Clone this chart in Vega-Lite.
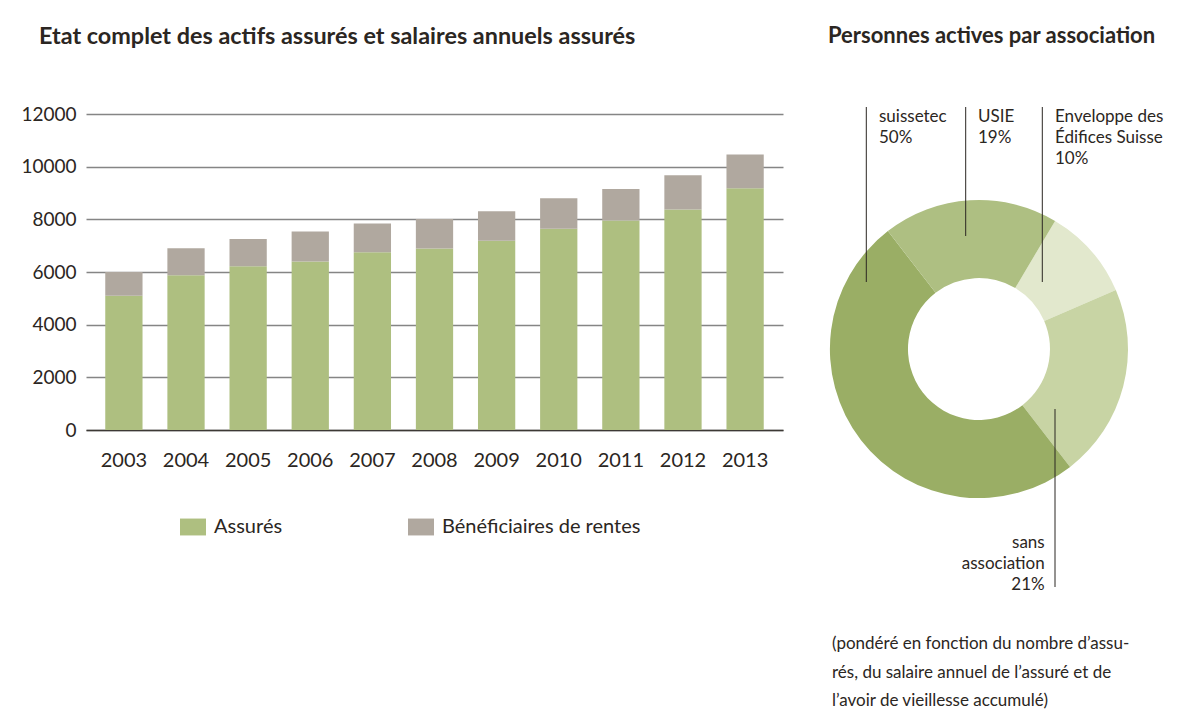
{
  "$schema": "https://vega.github.io/schema/vega-lite/v6.json",
  "background": "white",
  "padding": {"left": 20, "top": 24, "right": 0, "bottom": 0},
  "spacing": 36,
  "config": {
    "font": "Lato",
    "view": {"stroke": null},
    "title": {"font": "Lato", "fontSize": 22, "fontWeight": "bold", "color": "#2b2622", "anchor": "start", "frame": "group"},
    "axis": {"labelFont": "Lato", "labelColor": "#2b2622"},
    "legend": {"labelFont": "Lato", "labelColor": "#2b2622"}
  },
  "resolve": {"scale": {"color": "independent"}, "legend": {"color": "independent"}},
  "hconcat": [
    {
      "title": {"text": "Etat complet des actifs assurés et salaires annuels assurés", "fontSize": 23.4, "dx": -47, "offset": 56},
      "width": 697,
      "height": 316,
      "data": {"values": [
        {"annee": "2003", "categorie": "Assurés", "valeur": 5100},
        {"annee": "2003", "categorie": "Bénéficiaires de rentes", "valeur": 900},
        {"annee": "2004", "categorie": "Assurés", "valeur": 5880},
        {"annee": "2004", "categorie": "Bénéficiaires de rentes", "valeur": 1020},
        {"annee": "2005", "categorie": "Assurés", "valeur": 6220},
        {"annee": "2005", "categorie": "Bénéficiaires de rentes", "valeur": 1030},
        {"annee": "2006", "categorie": "Assurés", "valeur": 6400},
        {"annee": "2006", "categorie": "Bénéficiaires de rentes", "valeur": 1140},
        {"annee": "2007", "categorie": "Assurés", "valeur": 6750},
        {"annee": "2007", "categorie": "Bénéficiaires de rentes", "valeur": 1090},
        {"annee": "2008", "categorie": "Assurés", "valeur": 6890},
        {"annee": "2008", "categorie": "Bénéficiaires de rentes", "valeur": 1120},
        {"annee": "2009", "categorie": "Assurés", "valeur": 7190},
        {"annee": "2009", "categorie": "Bénéficiaires de rentes", "valeur": 1120},
        {"annee": "2010", "categorie": "Assurés", "valeur": 7640},
        {"annee": "2010", "categorie": "Bénéficiaires de rentes", "valeur": 1160},
        {"annee": "2011", "categorie": "Assurés", "valeur": 7960},
        {"annee": "2011", "categorie": "Bénéficiaires de rentes", "valeur": 1190},
        {"annee": "2012", "categorie": "Assurés", "valeur": 8370},
        {"annee": "2012", "categorie": "Bénéficiaires de rentes", "valeur": 1300},
        {"annee": "2013", "categorie": "Assurés", "valeur": 9180},
        {"annee": "2013", "categorie": "Bénéficiaires de rentes", "valeur": 1280}
      ]},
      "mark": {"type": "bar"},
      "encoding": {
        "x": {
          "field": "annee", "type": "ordinal",
          "scale": {"paddingInner": 0.4, "paddingOuter": 0.31},
          "axis": {"title": null, "labelAngle": 0, "labelFontSize": 20, "labelPadding": 20, "ticks": false, "tickSize": 0, "domainColor": "#3d3935", "domainWidth": 1.5, "grid": false}
        },
        "y": {
          "field": "valeur", "type": "quantitative", "stack": "zero",
          "scale": {"domain": [0, 12000], "nice": false},
          "axis": {"title": null, "values": [0, 2000, 4000, 6000, 8000, 10000, 12000], "format": "d", "labelFontSize": 19, "labelPadding": 10, "ticks": false, "tickSize": 0, "domain": false, "gridColor": "#858585", "gridWidth": 1.6}
        },
        "order": {"field": "categorie", "sort": "ascending"},
        "color": {
          "field": "categorie", "type": "nominal",
          "scale": {"domain": ["Assurés", "Bénéficiaires de rentes"], "range": ["#aebf80", "#b0a89f"]},
          "legend": {"title": null, "orient": "bottom", "direction": "horizontal", "symbolType": "M-1,-0.65H1V0.65H-1Z", "symbolSize": 676, "symbolStrokeWidth": 0, "symbolOffset": 94, "labelFontSize": 20, "labelOffset": 8, "labelLimit": 0, "columnPadding": 31, "offset": 44}
        }
      }
    },
    {
      "title": {"text": "Personnes actives par association", "dx": 9, "offset": 59},
      "width": 350,
      "height": 605,
      "data": {"values": [
        {"association": "Enveloppe des Édifices Suisse", "rang": 1, "part": 10, "etiquette": ["Enveloppe des", "Édifices Suisse", "10%"]},
        {"association": "sans association", "rang": 2, "part": 21, "etiquette": ["sans", "association", "21%"]},
        {"association": "suissetec", "rang": 3, "part": 50, "etiquette": ["suissetec", "50%"]},
        {"association": "USIE", "rang": 4, "part": 19, "etiquette": ["USIE", "19%"]}
      ]},
      "layer": [
        {
          "mark": {"type": "arc", "innerRadius": 71, "outerRadius": 149},
          "encoding": {
            "x": {"datum": 0, "type": "quantitative", "scale": {"domain": [-16, 19], "nice": false, "zero": false}, "axis": null},
            "y": {"datum": 0, "type": "quantitative", "scale": {"domain": [-37, 23.5], "nice": false, "zero": false}, "axis": null},
            "theta": {"field": "part", "type": "quantitative", "stack": true, "scale": {"range": [0.5358, 6.819]}},
            "order": {"field": "rang", "sort": "ascending"},
            "color": {
              "field": "association", "type": "nominal",
              "scale": {"domain": ["Enveloppe des Édifices Suisse", "sans association", "suissetec", "USIE"], "range": ["#e2e8cd", "#c8d4a4", "#9aae65", "#aebf82"]},
              "legend": null
            }
          }
        },
        {
          "data": {"values": [{}]},
          "mark": {"type": "rule", "color": "#2b2622", "strokeWidth": 1},
          "encoding": {"x": {"datum": -11.27, "type": "quantitative"}, "y": {"datum": 24.2, "type": "quantitative"}, "y2": {"datum": 6.7}}
        },
        {
          "data": {"values": [{}]},
          "mark": {"type": "rule", "color": "#2b2622", "strokeWidth": 1},
          "encoding": {"x": {"datum": -1.33, "type": "quantitative"}, "y": {"datum": 24.2, "type": "quantitative"}, "y2": {"datum": 11.3}}
        },
        {
          "data": {"values": [{}]},
          "mark": {"type": "rule", "color": "#2b2622", "strokeWidth": 1},
          "encoding": {"x": {"datum": 6.33, "type": "quantitative"}, "y": {"datum": 24.2, "type": "quantitative"}, "y2": {"datum": 6.7}}
        },
        {
          "data": {"values": [{}]},
          "mark": {"type": "rule", "color": "#2b2622", "strokeWidth": 1},
          "encoding": {"x": {"datum": 7.6, "type": "quantitative"}, "y": {"datum": -6.0, "type": "quantitative"}, "y2": {"datum": -23.8}}
        },
        {
          "transform": [{"filter": {"field": "association", "equal": "suissetec"}}],
          "mark": {"type": "text", "align": "left", "baseline": "alphabetic", "fontSize": 17, "lineHeight": 21, "color": "#2b2622"},
          "encoding": {"x": {"datum": -10.0, "type": "quantitative"}, "y": {"datum": 22.67, "type": "quantitative"}, "text": {"field": "etiquette"}}
        },
        {
          "transform": [{"filter": {"field": "association", "equal": "USIE"}}],
          "mark": {"type": "text", "align": "left", "baseline": "alphabetic", "fontSize": 17, "lineHeight": 21, "color": "#2b2622"},
          "encoding": {"x": {"datum": -0.1, "type": "quantitative"}, "y": {"datum": 22.67, "type": "quantitative"}, "text": {"field": "etiquette"}}
        },
        {
          "transform": [{"filter": {"field": "association", "equal": "Enveloppe des Édifices Suisse"}}],
          "mark": {"type": "text", "align": "left", "baseline": "alphabetic", "fontSize": 17, "lineHeight": 21, "color": "#2b2622"},
          "encoding": {"x": {"datum": 7.6, "type": "quantitative"}, "y": {"datum": 22.67, "type": "quantitative"}, "text": {"field": "etiquette"}}
        },
        {
          "transform": [{"filter": {"field": "association", "equal": "sans association"}}],
          "mark": {"type": "text", "align": "right", "baseline": "alphabetic", "fontSize": 17, "lineHeight": 21, "color": "#2b2622"},
          "encoding": {"x": {"datum": 6.57, "type": "quantitative"}, "y": {"datum": -19.9, "type": "quantitative"}, "text": {"field": "etiquette"}}
        },
        {
          "data": {"values": [{}]},
          "mark": {"type": "text", "align": "left", "baseline": "alphabetic", "fontSize": 17, "lineHeight": 28.5, "color": "#2b2622"},
          "encoding": {
            "x": {"datum": -14.7, "type": "quantitative"},
            "y": {"datum": -30.0, "type": "quantitative"},
            "text": {"value": ["(pondéré en fonction du nombre d’assu-", "rés, du salaire annuel de l’assuré et de", "l’avoir de vieillesse accumulé)"]}
          }
        }
      ]
    }
  ]
}
